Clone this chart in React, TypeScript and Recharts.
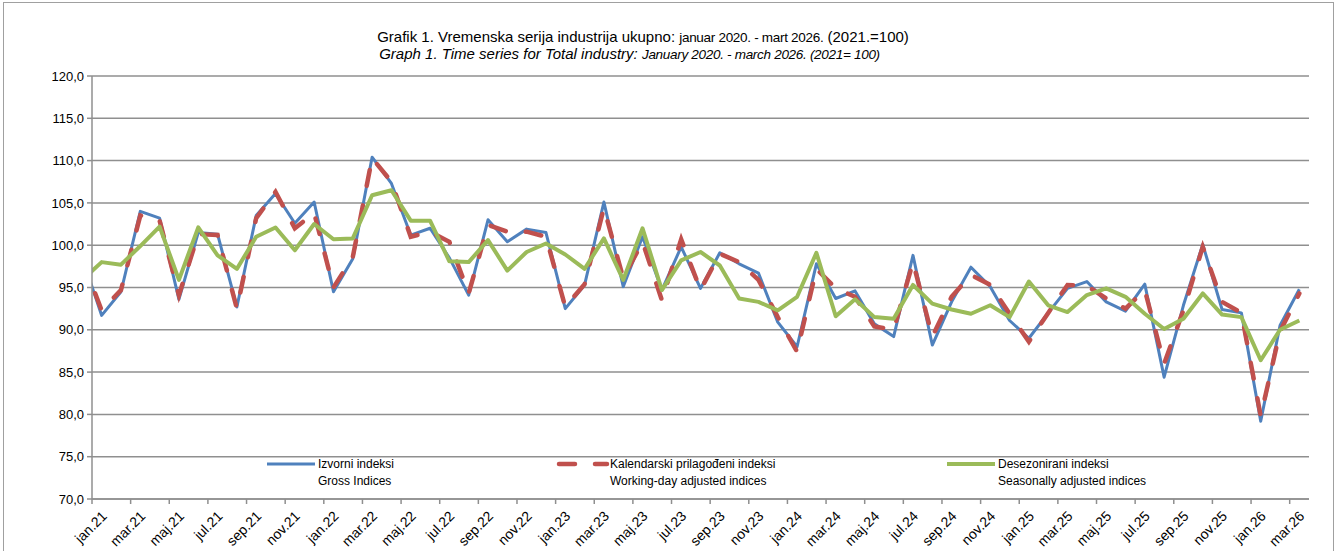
import { LineChart, Line, XAxis, YAxis, CartesianGrid } from "recharts"

// dec.20 is only there so the first segment runs in from the left edge, as in the original
const months = [
  "dec.20",
  "jan.21", "feb.21", "mar.21", "apr.21", "maj.21", "jun.21", "jul.21", "avg.21", "sep.21", "okt.21", "nov.21", "dec.21",
  "jan.22", "feb.22", "mar.22", "apr.22", "maj.22", "jun.22", "jul.22", "avg.22", "sep.22", "okt.22", "nov.22", "dec.22",
  "jan.23", "feb.23", "mar.23", "apr.23", "maj.23", "jun.23", "jul.23", "avg.23", "sep.23", "okt.23", "nov.23", "dec.23",
  "jan.24", "feb.24", "mar.24", "apr.24", "maj.24", "jun.24", "jul.24", "avg.24", "sep.24", "okt.24", "nov.24", "dec.24",
  "jan.25", "feb.25", "mar.25", "apr.25", "maj.25", "jun.25", "jul.25", "avg.25", "sep.25", "okt.25", "nov.25", "dec.25",
  "jan.26", "feb.26", "mar.26",
]

const gross = [
  98.5,
  91.7, 94.5, 104.0, 103.2, 93.6, 101.5, 101.3, 92.7, 103.5, 106.1, 102.6, 105.1,
  94.5, 98.4, 110.4, 107.3, 101.2, 102.0, 98.5, 94.1, 103.0, 100.4, 101.9, 101.5,
  92.5, 95.3, 105.1, 95.1, 101.0, 94.7, 99.8, 94.9, 99.1, 97.8, 96.7, 90.9,
  88.0, 97.8, 93.7, 94.6, 90.7, 89.2, 98.8, 88.2, 93.3, 97.4, 95.1, 91.1,
  89.0, 92.0, 94.9, 95.7, 93.3, 92.2, 95.4, 84.4, 92.9, 100.1, 92.4, 92.0,
  79.2, 90.5, 94.8,
]

const workingDay = [
  98.3,
  92.3, 94.7, 103.5, 102.9, 94.1, 101.3, 101.2, 92.5, 103.2, 106.3, 102.0, 103.8,
  95.0, 98.6, 110.3, 107.5, 101.0, 101.6, 100.4, 94.3, 102.4, 101.6, 101.6, 101.0,
  92.7, 95.4, 104.4, 96.1, 100.4, 93.5, 100.7, 94.7, 99.0, 98.0, 95.9, 91.5,
  87.4, 97.2, 94.9, 93.9, 90.4, 90.0, 98.0, 89.2, 93.9, 96.5, 95.3, 91.9,
  88.6, 92.0, 95.3, 95.2, 93.7, 92.5, 94.7, 86.0, 92.3, 99.8, 93.3, 92.0,
  79.8, 89.8, 94.3,
]

const seasonal = [
  95.9,
  98.0, 97.7, 99.9, 102.2, 95.9, 102.1, 98.8, 97.2, 101.0, 102.1, 99.4, 102.5,
  100.7, 100.8, 105.9, 106.5, 102.9, 102.9, 98.1, 98.0, 100.6, 97.0, 99.2, 100.2,
  98.9, 97.2, 100.8, 95.9, 102.0, 94.7, 98.2, 99.2, 97.6, 93.7, 93.3, 92.3,
  93.9, 99.1, 91.6, 93.6, 91.5, 91.3, 95.3, 93.1, 92.4, 91.9, 92.9, 91.5,
  95.7, 92.9, 92.1, 94.1, 94.9, 93.9, 91.9, 90.1, 91.3, 94.3, 91.8, 91.5,
  86.4, 90.0, 91.1,
]

const seriesNames = ["Izvorni indeksi", "Kalendarski prilagođeni indeksi", "Desezonirani indeksi"]
const seriesNamesEn = ["Gross Indices", "Working-day adjusted indices", "Seasonally adjusted indices"]
const yTicks = [70, 75, 80, 85, 90, 95, 100, 105, 110, 115, 120]

const BLUE = "#4F81BD"
const RED = "#C0504D"
const GREEN = "#9BBB59"
const GRID = "#8f8f8f"
const FONT = "'Liberation Sans', Arial, sans-serif"

// x position: dec.20 = -1, jan.21 = 0 ... mar.26 = 62
const data = months.map((m, idx) => ({
  i: idx - 1,
  month: m,
  gross: gross[idx],
  workingDay: workingDay[idx],
  seasonal: seasonal[idx],
}))

const nMonths = months.length - 1
// tick marks sit on category borders, every second month
const xTicks = months.slice(1).map((_, k) => k - 0.5).filter((_, k) => k % 2 === 0)

const W = 1336
const H = 551
const PLOT_LEFT = 92
const PLOT_RIGHT = 1309
const HALF = (PLOT_RIGHT - PLOT_LEFT) / nMonths / 2

const XTick = (props: any) => {
  const { x, y, payload } = props
  const label = months[Math.round(payload.value + 0.5) + 1]
  const ax = x + HALF + 6
  const ay = y + 11
  return (
    <text x={ax} y={ay} transform={`rotate(-45 ${ax} ${ay})`} textAnchor="end"
      fontSize={14} fill="#000" fontFamily={FONT}>
      {label}
    </text>
  )
}

const legendItems = [
  { x: 267, color: BLUE, width: 3, dash: undefined },
  { x: 559, color: RED, width: 4.5, dash: "16 20" },
  { x: 947, color: GREEN, width: 4, dash: undefined },
]

export default function App() {
  return (
    <div style={{ position: "absolute", left: 0, top: 0, width: W, height: H, background: "#fff", overflow: "hidden", fontFamily: FONT }}>
      <div style={{ position: "absolute", left: 3, top: 2, width: 1329, height: 600, border: "1px solid #a0a0a0" }} />

      {/* title */}
      <div style={{ position: "absolute", left: 0, top: 28, width: 1286, textAlign: "center", fontSize: 15, color: "#000", whiteSpace: "nowrap", lineHeight: "17px" }}>
        Grafik 1. Vremenska serija industrija ukupno:{" "}
        <span style={{ fontSize: 13.5, letterSpacing: -0.3 }}>januar 2020. - mart 2026.</span>{" "}
        (2021.=100)
      </div>
      <div style={{ position: "absolute", left: 0, top: 45, width: 1259, textAlign: "center", fontSize: 15, fontStyle: "italic", color: "#000", whiteSpace: "nowrap", lineHeight: "17px" }}>
        Graph 1. Time series for Total industry:{" "}
        <span style={{ fontSize: 13.5, letterSpacing: -0.3 }}>January 2020. -  march 2026. (2021= 100)</span>
      </div>

      <div style={{ position: "absolute", left: 0, top: 0 }}>
        <LineChart width={W} height={H} data={data} margin={{ top: 76, right: W - PLOT_RIGHT, bottom: 0, left: 0 }}>
          <CartesianGrid vertical={false} stroke={GRID} strokeWidth={1.5} />
          <XAxis
            type="number"
            dataKey="i"
            domain={[-0.5, nMonths - 0.5]}
            allowDataOverflow
            ticks={xTicks}
            interval={0}
            height={52}
            tickSize={5}
            tick={<XTick />}
            axisLine={{ stroke: GRID, strokeWidth: 1.5 }}
            tickLine={{ stroke: GRID, strokeWidth: 1.5 }}
          />
          <YAxis
            domain={[70, 120]}
            ticks={yTicks}
            interval={0}
            width={PLOT_LEFT}
            tickSize={5}
            tickMargin={3}
            allowDataOverflow
            tickFormatter={(v: number) => v.toFixed(1).replace(".", ",")}
            tick={{ fill: "#000", fontSize: 13, fontFamily: FONT }}
            axisLine={{ stroke: GRID, strokeWidth: 1.5 }}
            tickLine={{ stroke: GRID, strokeWidth: 1.5 }}
          />
          <Line type="linear" dataKey="gross" name={seriesNames[0]} stroke={BLUE} strokeWidth={3}
            dot={false} activeDot={false} isAnimationActive={false} strokeLinejoin="round" />
          <Line type="linear" dataKey="workingDay" name={seriesNames[1]} stroke={RED} strokeWidth={4.5}
            strokeDasharray="16 20" strokeLinecap="round" dot={false} activeDot={false} isAnimationActive={false} />
          <Line type="linear" dataKey="seasonal" name={seriesNames[2]} stroke={GREEN} strokeWidth={4}
            dot={false} activeDot={false} isAnimationActive={false} strokeLinejoin="round" />
        </LineChart>
      </div>

      {/* legend */}
      {legendItems.map((it, k) => (
        <div key={k}>
          <svg style={{ position: "absolute", left: it.x - 3, top: 458 }} width={56} height={12}>
            <line x1={3} y1={6} x2={51} y2={6} stroke={it.color} strokeWidth={it.width}
              strokeDasharray={it.dash} strokeLinecap={it.dash ? "round" : "butt"} />
          </svg>
          <div style={{ position: "absolute", left: it.x + 51, top: 456, fontSize: 12, lineHeight: "17px", color: "#000", whiteSpace: "nowrap" }}>
            {seriesNames[k]}<br />{seriesNamesEn[k]}
          </div>
        </div>
      ))}
    </div>
  )
}
